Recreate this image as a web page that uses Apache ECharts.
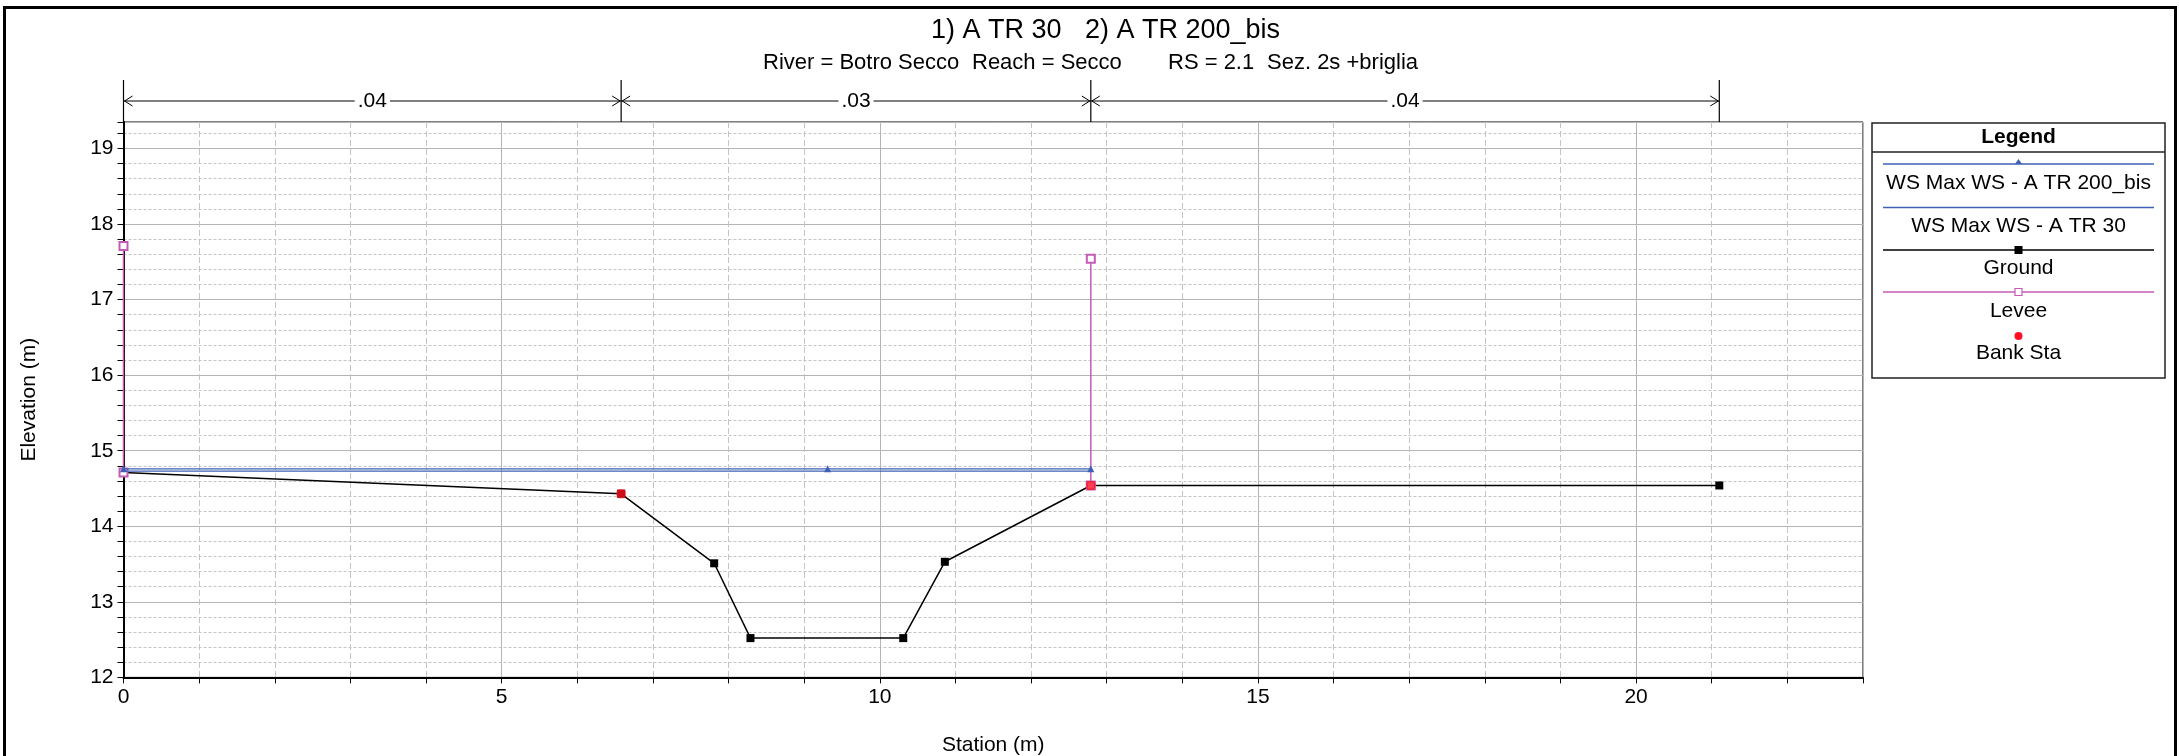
<!DOCTYPE html>
<html><head><meta charset="utf-8">
<script src="https://cdn.jsdelivr.net/npm/echarts@6/dist/echarts.min.js"></script>
<style>html,body{margin:0;padding:0;background:#fff;} #c{width:2179px;height:756px;}</style>
</head><body><div id="c"></div>
<script>
// ---- data ----
const groundX = [0, 6.58, 7.81, 8.29, 10.31, 10.86, 12.79, 21.1];
const groundY = [14.71, 14.43, 13.51, 12.52, 12.52, 13.53, 14.54, 14.54];
const wsTR200X = [0, 9.31, 12.79];
const wsTR200Y = [14.76, 14.76, 14.76];
const wsTR30X = [0, 12.79];
const wsTR30Y = [14.73, 14.73];
const leveeLeftX = [0, 0];
const leveeLeftY = [14.71, 17.71];
const leveeRightX = [12.79, 12.79];
const leveeRightY = [14.54, 17.54];
const bankX = [6.58, 12.79];
const bankY = [14.43, 14.54];
const mannX = [0, 6.58, 12.79, 21.1];
const mannN = ['.04', '.03', '.04'];
const legendNames = ['WS Max WS - A TR 200_bis', 'WS Max WS - A TR 30', 'Ground', 'Levee', 'Bank Sta'];
const titleParts = ['1) A TR 30', '2) A TR 200_bis'];
const subtitleParts = ['River = Botro Secco', 'Reach = Secco', 'RS = 2.1', 'Sez. 2s +briglia'];
const xRange = [0, 23];
const yRange = [12, 19.35];

const zip = (xs, ys) => xs.map((x, i) => [x, ys[i]]);
const FONT = '"Liberation Sans", Arial, sans-serif';
const C_WS = '#3f60b4', C_LEV = '#c45cb6', C_BANK = '#ff1020';

const chart = echarts.init(document.getElementById('c'), null, {renderer: 'canvas'});

const isInt = v => Math.abs(v - Math.round(v)) < 1e-6;
const baseX = {type: 'value', min: xRange[0], max: xRange[1], position: 'bottom'};
const baseY = {type: 'value', min: yRange[0], max: yRange[1], position: 'left'};

const option = {
  animation: false,
  backgroundColor: '#fff',
  textStyle: {fontFamily: FONT},
  grid: {left: 123.5, right: 316, top: 122, bottom: 78.6, show: true, borderColor: '#000', borderWidth: 1,
    containLabel: false, outerBoundsMode: 'none'},
  xAxis: [
    Object.assign({}, baseX, {
      interval: 1,
      axisLine: {show: true, onZero: false, lineStyle: {color: '#000', width: 2}},
      axisTick: {show: true, length: 6, lineStyle: {color: '#000', width: 1}},
      axisLabel: {show: true, fontSize: 21, color: '#000', margin: 9, fontFamily: FONT,
        formatter: v => (isInt(v) && Math.round(v) % 5 === 0) ? String(Math.round(v)) : ''},
      splitLine: {show: true, lineStyle: {color: '#c4c4c4', width: 1, type: [6, 3]}},
      name: 'Station (m)', nameLocation: 'middle', nameGap: 57,
      nameTextStyle: {fontSize: 21, color: '#000', fontFamily: FONT}
    }),
    Object.assign({}, baseX, {
      interval: 5,
      axisLine: {show: false}, axisTick: {show: false}, axisLabel: {show: false},
      splitLine: {show: true, lineStyle: {color: '#b4b4b4', width: 1, type: 'solid'}}
    })
  ],
  yAxis: [
    Object.assign({}, baseY, {
      interval: 0.2,
      axisLine: {show: true, onZero: false, lineStyle: {color: '#000', width: 2}},
      axisTick: {show: true, length: 6, lineStyle: {color: '#000', width: 1}},
      axisLabel: {show: true, fontSize: 21, color: '#000', margin: 10, fontFamily: FONT,
        formatter: v => isInt(v) ? String(Math.round(v)) : ''},
      splitLine: {show: true, lineStyle: {color: '#c4c4c4', width: 1, type: [3, 2]}},
      name: 'Elevation (m)', nameLocation: 'middle', nameGap: 84, nameRotate: 90,
      nameTextStyle: {fontSize: 21, color: '#000', fontFamily: FONT}
    }),
    Object.assign({}, baseY, {
      interval: 1,
      axisLine: {show: false}, axisTick: {show: false}, axisLabel: {show: false},
      splitLine: {show: true, lineStyle: {color: '#b4b4b4', width: 1.2, type: 'solid'}}
    })
  ],
  series: [
    {name: legendNames[2], type: 'line', z: 3, data: zip(groundX, groundY),
      lineStyle: {color: '#000', width: 1.5}, itemStyle: {color: '#000'},
      symbol: 'rect', symbolSize: 8, showAllSymbol: true},
    {name: legendNames[3], type: 'line', z: 4, data: zip(leveeLeftX, leveeLeftY),
      lineStyle: {color: C_LEV, width: 1.5}, itemStyle: {color: C_LEV, borderWidth: 1.2},
      symbol: 'emptyRect', symbolSize: 8, showAllSymbol: true},
    {name: legendNames[3], type: 'line', z: 4, data: zip(leveeRightX, leveeRightY),
      lineStyle: {color: C_LEV, width: 1.5}, itemStyle: {color: C_LEV, borderWidth: 1.2},
      symbol: 'emptyRect', symbolSize: 8, showAllSymbol: true},
    {name: legendNames[1], type: 'line', z: 5, data: zip(wsTR30X, wsTR30Y),
      lineStyle: {color: C_WS, width: 1.3}, symbol: 'none'},
    {name: legendNames[0], type: 'line', z: 6, data: zip(wsTR200X, wsTR200Y),
      lineStyle: {color: C_WS, width: 1.3}, itemStyle: {color: C_WS},
      symbol: 'triangle', symbolSize: 7, showAllSymbol: true},
    {name: legendNames[4], type: 'scatter', z: 7, data: zip(bankX, bankY),
      symbol: 'roundRect', symbolSize: 9, itemStyle: {color: C_BANK}}
  ]
};
chart.setOption(option);

// ---- overlay graphics (title, n-value bar, legend, frame) ----
const g = [];
g.push({type: 'rect', shape: {x: 4.5, y: 7.5, width: 2171, height: 760}, style: {fill: 'none', stroke: '#000', lineWidth: 3}, silent: true});

const titleXs = [931, 1085];
titleParts.forEach((t, i) => g.push({type: 'text', x: titleXs[i], y: 31,
  style: {text: t, font: '27px ' + FONT, fill: '#000', textAlign: 'left', textVerticalAlign: 'middle'}}));
const subXs = [763, 972, 1168, 1267];
subtitleParts.forEach((t, i) => g.push({type: 'text', x: subXs[i], y: 63,
  style: {text: t, font: '22px ' + FONT, fill: '#000', textAlign: 'left', textVerticalAlign: 'middle'}}));

// Manning's n bar
const px = v => chart.convertToPixel({xAxisIndex: 0}, v);
const barY = 101;
mannX.forEach(v => {
  const x = px(v);
  g.push({type: 'line', shape: {x1: x, y1: 80, x2: x, y2: 122}, style: {stroke: '#000', lineWidth: 1.2}});
});
for (let i = 0; i < mannN.length; i++) {
  const xa = px(mannX[i]), xb = px(mannX[i + 1]);
  g.push({type: 'line', shape: {x1: xa, y1: barY, x2: xb, y2: barY}, style: {stroke: '#000', lineWidth: 1}});
  g.push({type: 'polyline', shape: {points: [[xa + 9, barY - 5], [xa + 1, barY], [xa + 9, barY + 5]]}, style: {stroke: '#000', lineWidth: 1, fill: 'none'}});
  g.push({type: 'polyline', shape: {points: [[xb - 9, barY - 5], [xb - 1, barY], [xb - 9, barY + 5]]}, style: {stroke: '#000', lineWidth: 1, fill: 'none'}});
  g.push({type: 'text', x: (xa + xb) / 2, y: barY, z: 10,
    style: {text: mannN[i], font: '21px ' + FONT, fill: '#000', textAlign: 'center', textVerticalAlign: 'middle',
      backgroundColor: '#fff', padding: [0, 3]}});
}

// Legend box
const LX = 1872, LY = 123, LW = 293, LH = 255, LC = LX + LW / 2;
g.push({type: 'rect', shape: {x: LX, y: LY, width: LW, height: LH}, style: {fill: '#fff', stroke: '#222', lineWidth: 1.5}});
g.push({type: 'line', shape: {x1: LX, y1: 152, x2: LX + LW, y2: 152}, style: {stroke: '#222', lineWidth: 1.5}});
g.push({type: 'text', x: LC, y: 137.5, style: {text: 'Legend', font: 'bold 21px ' + FONT, fill: '#000', textAlign: 'center', textVerticalAlign: 'middle'}});
const lineYs = [164, 207.5, 250, 292, null];
const textYs = [183, 226.5, 268.5, 311.5, 353];
const lineCols = [C_WS, C_WS, '#000', C_LEV, null];
legendNames.forEach((n, i) => {
  if (lineYs[i] !== null) {
    g.push({type: 'line', shape: {x1: 1883, y1: lineYs[i], x2: 2154, y2: lineYs[i]}, style: {stroke: lineCols[i], lineWidth: 1.5}});
  }
  g.push({type: 'text', x: LC, y: textYs[i], style: {text: n, font: '21px ' + FONT, fill: '#000', textAlign: 'center', textVerticalAlign: 'middle'}});
});
g.push({type: 'polygon', shape: {points: [[LC, lineYs[0] - 5], [LC - 3.5, lineYs[0]], [LC + 3.5, lineYs[0]]]}, style: {fill: C_WS}});
g.push({type: 'rect', shape: {x: LC - 4, y: lineYs[2] - 4, width: 8, height: 8}, style: {fill: '#000'}});
g.push({type: 'rect', shape: {x: LC - 3.5, y: lineYs[3] - 3.5, width: 7, height: 7}, style: {fill: '#fff', stroke: C_LEV, lineWidth: 1.2}});
g.push({type: 'circle', shape: {cx: LC, cy: 336, r: 4}, style: {fill: C_BANK}});

chart.setOption({graphic: g});
</script>
</body></html>
